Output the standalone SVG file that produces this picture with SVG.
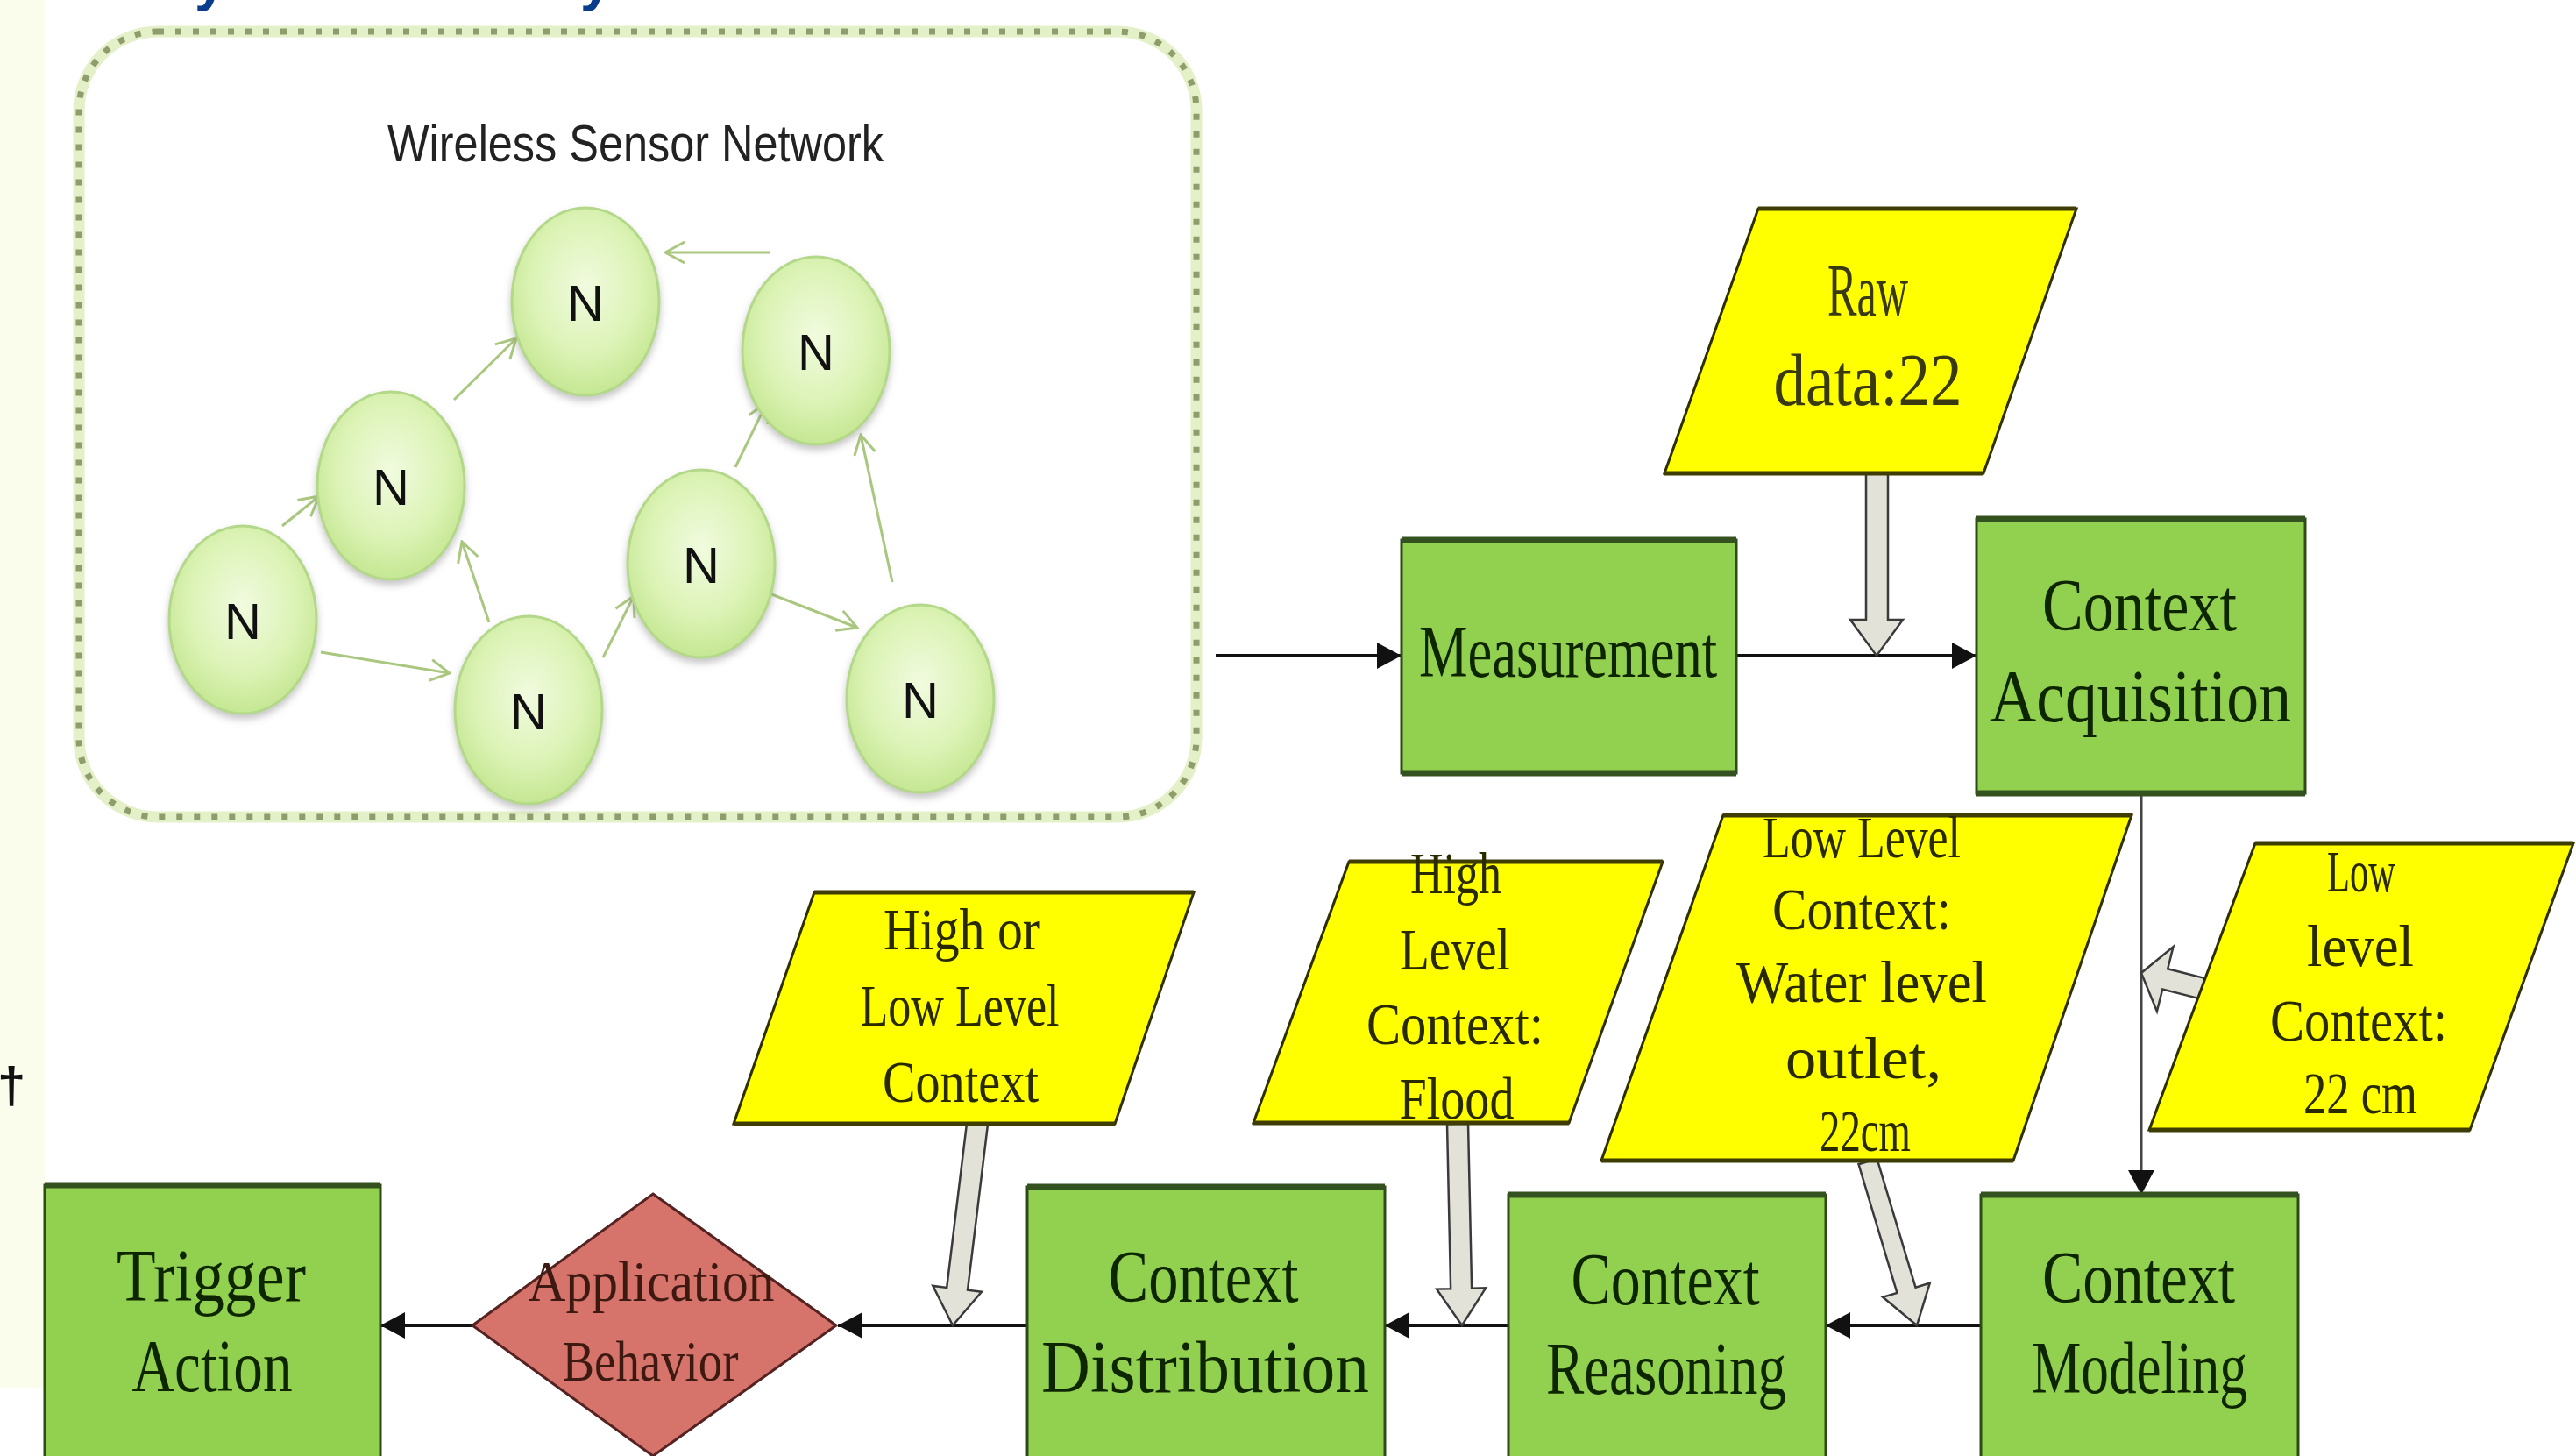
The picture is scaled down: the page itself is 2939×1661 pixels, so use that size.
<svg xmlns="http://www.w3.org/2000/svg" width="2939" height="1661" viewBox="0 0 2939 1661">
<defs>
<style>
.gbox{fill:#92d050;stroke:#2d4a17;stroke-width:3}
.gedge{stroke:#34521f;stroke-width:7}
.ybox{fill:#ffff00;stroke:#2f2f00;stroke-width:3}
.yedge{stroke:#3d3d05;stroke-width:5}
.gt{font-family:"Liberation Serif","DejaVu Serif",serif;font-size:84px;fill:#0d2600;text-anchor:middle}
.yt{font-family:"Liberation Serif","DejaVu Serif",serif;font-size:68px;fill:#2a2a00;text-anchor:middle}
.rt{font-family:"Liberation Serif","DejaVu Serif",serif;font-size:84px;fill:#3a3a12;text-anchor:middle}
.dt{font-family:"Liberation Serif","DejaVu Serif",serif;font-size:66px;fill:#3c1a12;text-anchor:middle}
.conn{stroke:#111;stroke-width:4;fill:none;marker-end:url(#ah)}
.conn-thin{stroke:#444;stroke-width:3;fill:none;marker-end:url(#ah)}
.blk{fill:#e2e2d8;stroke:#3a3a3a;stroke-width:2.5;stroke-linejoin:miter}
.warr{stroke:#a9c77e;stroke-width:3;fill:none;marker-end:url(#oh)}
.nd{fill:url(#ng);stroke:#b3d889;stroke-width:3;filter:url(#sh)}
.nt{font-family:"Liberation Sans","DejaVu Sans",sans-serif;font-size:58px;fill:#111;text-anchor:middle}
.ttl{font-family:"Liberation Sans","DejaVu Sans",sans-serif;font-weight:bold;font-size:64px;fill:#0a3c8c}
</style>
<radialGradient id="ng" cx="50%" cy="42%" r="60%">
<stop offset="0" stop-color="#f1fbdf"/>
<stop offset="0.6" stop-color="#dcf3b6"/>
<stop offset="1" stop-color="#c3e68f"/>
</radialGradient>
<filter id="sh" x="-20%" y="-20%" width="140%" height="140%">
<feDropShadow dx="0" dy="5" stdDeviation="4" flood-color="#7a7a7a" flood-opacity="0.45"/>
</filter>
<marker id="ah" markerUnits="userSpaceOnUse" viewBox="0 0 28 30" markerWidth="28" markerHeight="30" refX="28" refY="15" orient="auto">
<path d="M0,0 L28,15 L0,30 z" fill="#111"/>
</marker>
<marker id="oh" markerUnits="userSpaceOnUse" viewBox="0 0 30 30" markerWidth="30" markerHeight="30" refX="28" refY="15" orient="auto">
<path d="M6,3 L28,15 L6,27" fill="none" stroke="#a9c77e" stroke-width="3"/>
</marker>
</defs>
<rect x="0" y="0" width="2939" height="1661" fill="#ffffff"/>
<rect x="0" y="0" width="51" height="1583" fill="#fafcec"/>
<text class="ttl" x="222" y="0">y</text>
<text class="ttl" x="662" y="0">y</text>
<text x="13" y="1258" font-family="Liberation Sans, sans-serif" font-weight="bold" font-size="58" fill="#111" text-anchor="middle">†</text>

<g id="wsn-frame">
<rect x="90" y="36" width="1275" height="896" rx="90" ry="90" fill="none" stroke="#e3f0c8" stroke-width="13"/>
<rect x="90" y="36" width="1275" height="896" rx="90" ry="90" fill="none" stroke="#8f9c6c" stroke-width="7" stroke-dasharray="7 13"/>
<text x="725" y="184" font-family="Liberation Sans, sans-serif" font-size="60" fill="#222" text-anchor="middle" textLength="566" lengthAdjust="spacingAndGlyphs">Wireless Sensor Network</text>
</g>

<g id="connectors">
<line class="warr" x1="879" y1="288" x2="759" y2="288"/>
<line class="warr" x1="518" y1="456" x2="589" y2="386"/>
<line class="warr" x1="322" y1="600" x2="364" y2="566"/>
<line class="warr" x1="366" y1="744" x2="513" y2="768"/>
<line class="warr" x1="558" y1="710" x2="527" y2="618"/>
<line class="warr" x1="688" y1="750" x2="723" y2="680"/>
<line class="warr" x1="839" y1="533" x2="875" y2="459"/>
<line class="warr" x1="870" y1="674" x2="978" y2="716"/>
<line class="warr" x1="1018" y1="664" x2="982" y2="496"/>

<line class="conn" x1="1387" y1="748" x2="1599" y2="748"/>
<line class="conn" x1="1981" y1="748" x2="2255" y2="748"/>
<line class="conn-thin" x1="2443" y1="905" x2="2443" y2="1363"/>
<line class="conn" x1="2260" y1="1512" x2="2083" y2="1512"/>
<line class="conn" x1="1721" y1="1512" x2="1580" y2="1512"/>
<line class="conn" x1="1172" y1="1512" x2="956" y2="1512"/>
<line class="conn" x1="539" y1="1512" x2="434" y2="1512"/>

<polygon class="blk" points="2129,540 2154,540 2154,707 2171,707 2141,748 2111,707 2129,707"/>
<polygon class="blk" points="1126.9,1283.4 1104,1471.7 1119.9,1473.7 1087,1512 1064.3,1466.9 1080.2,1468.9 1103.1,1280.6"/>
<polygon class="blk" points="1675,1281.7 1679.1,1469.7 1695.1,1469.4 1668,1512 1639.1,1470.6 1655.1,1470.3 1651,1282.3"/>
<polygon class="blk" points="2141.5,1321.8 2185.5,1468.6 2201.8,1463.7 2187,1512 2148.1,1479.8 2164.4,1474.9 2120.5,1328.2"/>
<polygon class="blk" points="2517,1116.4 2473.2,1105.3 2479.5,1080 2443,1110 2460.9,1153.8 2467.2,1128.5 2511,1139.6"/>
</g>

<g id="node-n1"><ellipse class="nd" cx="277" cy="707" rx="84" ry="107"/><text class="nt" x="277" y="729">N</text></g>
<g id="node-n2"><ellipse class="nd" cx="446" cy="554" rx="84" ry="107"/><text class="nt" x="446" y="576">N</text></g>
<g id="node-n3"><ellipse class="nd" cx="668" cy="344" rx="84" ry="107"/><text class="nt" x="668" y="366">N</text></g>
<g id="node-n4"><ellipse class="nd" cx="931" cy="400" rx="84" ry="107"/><text class="nt" x="931" y="422">N</text></g>
<g id="node-n5"><ellipse class="nd" cx="800" cy="643" rx="84" ry="107"/><text class="nt" x="800" y="665">N</text></g>
<g id="node-n6"><ellipse class="nd" cx="603" cy="810" rx="84" ry="107"/><text class="nt" x="603" y="832">N</text></g>
<g id="node-n7"><ellipse class="nd" cx="1050" cy="797" rx="84" ry="107"/><text class="nt" x="1050" y="819">N</text></g>

<g id="measurement">
<rect class="gbox" x="1599" y="616" width="382" height="266"/>
<line class="gedge" x1="1599" y1="616" x2="1981" y2="616"/>
<line class="gedge" x1="1599" y1="882" x2="1981" y2="882"/>
<text class="gt" x="1789" y="772" textLength="340" lengthAdjust="spacingAndGlyphs">Measurement</text>
</g>

<g id="context-acquisition">
<rect class="gbox" x="2255" y="592" width="375" height="313"/>
<line class="gedge" x1="2255" y1="592" x2="2630" y2="592"/>
<line class="gedge" x1="2255" y1="905" x2="2630" y2="905"/>
<text class="gt" x="2441" y="719" textLength="222" lengthAdjust="spacingAndGlyphs">Context</text>
<text class="gt" x="2442" y="823" textLength="344" lengthAdjust="spacingAndGlyphs">Acquisition</text>
</g>

<g id="raw-data">
<polygon class="ybox" points="2006,238 2369,238 2263,540 1899,540"/>
<line class="yedge" x1="2006" y1="238" x2="2369" y2="238"/>
<line class="yedge" x1="1899" y1="540" x2="2263" y2="540"/>
<text class="rt" x="2131" y="360" textLength="92" lengthAdjust="spacingAndGlyphs">Raw</text>
<text class="rt" x="2131" y="462" textLength="215" lengthAdjust="spacingAndGlyphs">data:22</text>
</g>

<g id="low-level-22cm">
<polygon class="ybox" points="2573,962 2936,962 2818,1289 2452,1289"/>
<line class="yedge" x1="2573" y1="962" x2="2936" y2="962"/>
<line class="yedge" x1="2452" y1="1289" x2="2818" y2="1289"/>
<text class="yt" x="2694" y="1017" textLength="78" lengthAdjust="spacingAndGlyphs">Low</text>
<text class="yt" x="2693" y="1102" textLength="122" lengthAdjust="spacingAndGlyphs">level</text>
<text class="yt" x="2691" y="1187" textLength="202" lengthAdjust="spacingAndGlyphs">Context:</text>
<text class="yt" x="2693" y="1270" textLength="130" lengthAdjust="spacingAndGlyphs">22 cm</text>
</g>

<g id="low-level-water">
<polygon class="ybox" points="1966,930 2432,930 2297,1324 1827,1324"/>
<line class="yedge" x1="1966" y1="930" x2="2432" y2="930"/>
<line class="yedge" x1="1827" y1="1324" x2="2297" y2="1324"/>
<text class="yt" x="2124" y="978" textLength="226" lengthAdjust="spacingAndGlyphs">Low Level</text>
<text class="yt" x="2124" y="1060" textLength="204" lengthAdjust="spacingAndGlyphs">Context:</text>
<text class="yt" x="2124" y="1143" textLength="286" lengthAdjust="spacingAndGlyphs">Water level</text>
<text class="yt" x="2126" y="1230" textLength="178" lengthAdjust="spacingAndGlyphs">outlet,</text>
<text class="yt" x="2128" y="1313" textLength="104" lengthAdjust="spacingAndGlyphs">22cm</text>
</g>

<g id="high-level-flood">
<polygon class="ybox" points="1539,983 1897,983 1790,1281 1430,1281"/>
<line class="yedge" x1="1539" y1="983" x2="1897" y2="983"/>
<line class="yedge" x1="1430" y1="1281" x2="1790" y2="1281"/>
<text class="yt" x="1661" y="1019" textLength="104" lengthAdjust="spacingAndGlyphs">High</text>
<text class="yt" x="1660" y="1106" textLength="126" lengthAdjust="spacingAndGlyphs">Level</text>
<text class="yt" x="1660" y="1191" textLength="202" lengthAdjust="spacingAndGlyphs">Context:</text>
<text class="yt" x="1662" y="1276" textLength="131" lengthAdjust="spacingAndGlyphs">Flood</text>
</g>

<g id="high-or-low-context">
<polygon class="ybox" points="929,1018 1362,1018 1272,1282 837,1282"/>
<line class="yedge" x1="929" y1="1018" x2="1362" y2="1018"/>
<line class="yedge" x1="837" y1="1282" x2="1272" y2="1282"/>
<text class="yt" x="1097" y="1083" textLength="178" lengthAdjust="spacingAndGlyphs">High or</text>
<text class="yt" x="1095" y="1170" textLength="227" lengthAdjust="spacingAndGlyphs">Low Level</text>
<text class="yt" x="1096" y="1257" textLength="178" lengthAdjust="spacingAndGlyphs">Context</text>
</g>

<g id="context-modeling">
<rect class="gbox" x="2260" y="1363" width="362" height="310"/>
<line class="gedge" x1="2260" y1="1363" x2="2622" y2="1363"/>
<text class="gt" x="2440" y="1486" textLength="220" lengthAdjust="spacingAndGlyphs">Context</text>
<text class="gt" x="2441" y="1589" textLength="246" lengthAdjust="spacingAndGlyphs">Modeling</text>
</g>

<g id="context-reasoning">
<rect class="gbox" x="1721" y="1363" width="362" height="310"/>
<line class="gedge" x1="1721" y1="1363" x2="2083" y2="1363"/>
<text class="gt" x="1900" y="1488" textLength="215" lengthAdjust="spacingAndGlyphs">Context</text>
<text class="gt" x="1901" y="1590" textLength="274" lengthAdjust="spacingAndGlyphs">Reasoning</text>
</g>

<g id="context-distribution">
<rect class="gbox" x="1172" y="1354" width="408" height="319"/>
<line class="gedge" x1="1172" y1="1354" x2="1580" y2="1354"/>
<text class="gt" x="1373" y="1485" textLength="217" lengthAdjust="spacingAndGlyphs">Context</text>
<text class="gt" x="1375" y="1588" textLength="374" lengthAdjust="spacingAndGlyphs">Distribution</text>
</g>

<g id="application-behavior">
<polygon points="745,1362 954,1512 745,1661 539,1512" fill="#d6736a" stroke="#552222" stroke-width="3"/>
<text class="dt" x="743" y="1484" textLength="281" lengthAdjust="spacingAndGlyphs">Application</text>
<text class="dt" x="742" y="1575" textLength="201" lengthAdjust="spacingAndGlyphs">Behavior</text>
</g>

<g id="trigger-action">
<rect class="gbox" x="51" y="1352" width="383" height="321"/>
<line class="gedge" x1="51" y1="1352" x2="434" y2="1352"/>
<text class="gt" x="241" y="1484" textLength="216" lengthAdjust="spacingAndGlyphs">Trigger</text>
<text class="gt" x="242" y="1587" textLength="183" lengthAdjust="spacingAndGlyphs">Action</text>
</g>
</svg>
